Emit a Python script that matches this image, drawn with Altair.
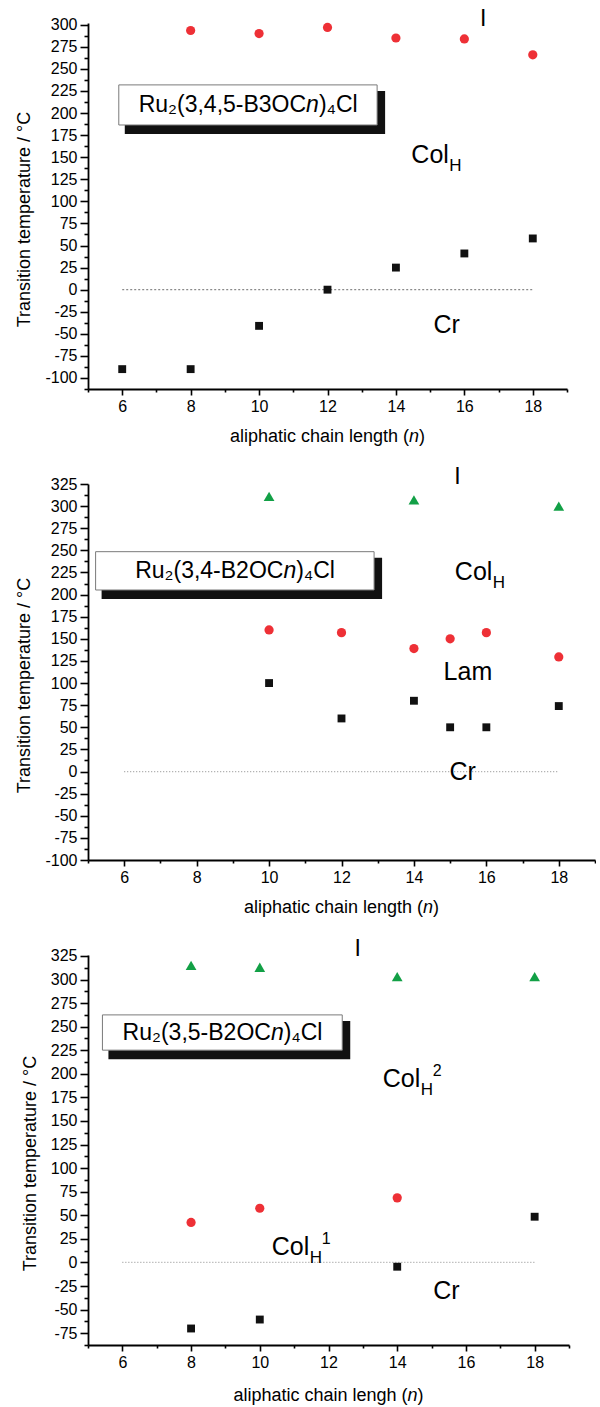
import altair as alt
import pandas as pd

FONT = "Liberation Sans"

# ---------------- data ----------------
# Panel 1: Ru2(3,4,5-B3OCn)4Cl
p1_sq_n = [6, 8, 10, 12, 14, 16, 18]
p1_sq_t = [-90, -90, -41, 0, 25, 41, 58]
p1_ci_n = [8, 10, 12, 14, 16, 18]
p1_ci_t = [293.5, 290, 297, 285, 284, 266]

# Panel 2: Ru2(3,4-B2OCn)4Cl
p2_sq_n = [10, 12, 14, 15, 16, 18]
p2_sq_t = [100, 60, 80, 50, 50, 74]
p2_ci_n = [10, 12, 14, 15, 16, 18]
p2_ci_t = [160, 157, 139, 150, 157, 129.5]
p2_tr_n = [10, 14, 18]
p2_tr_t = [311, 307, 300]

# Panel 3: Ru2(3,5-B2OCn)4Cl
p3_sq_n = [8, 10, 14, 18]
p3_sq_t = [-70, -60.5, -4.5, 48.5]
p3_ci_n = [8, 10, 14]
p3_ci_t = [42.5, 57.5, 68.5]
p3_tr_n = [8, 10, 14, 18]
p3_tr_t = [315, 313, 303, 303]

# phase labels: text, n, T, subscript, superscript, align
p1_phases = [("I", 16.55, 306, "", "", "center"),
             ("Col", 14.45, 152, "H", "", "left"),
             ("Cr", 15.1, -40.4, "", "", "left")]
p2_phases = [("I", 15.2, 333, "", "", "center"),
             ("Col", 15.13, 226, "H", "", "left"),
             ("Lam", 14.82, 112, "", "", "left"),
             ("Cr", 14.98, 0, "", "", "left")]
p3_phases = [("I", 12.85, 332.4, "", "", "center"),
             ("Col", 13.58, 194.4, "H", "2", "left"),
             ("Col", 10.35, 16, "H", "1", "left"),
             ("Cr", 15.05, -30.6, "", "", "left")]

# label boxes: n1, n2, T_top, T_bottom
p1_box = (5.9, 13.45, 231.9, 186.5)
p2_box = (5.21, 12.9, 248.5, 205.2)
p3_box = (5.42, 12.4, 262.5, 225.1)
# box label pieces: before italic n, after italic n
p1_label = ("Ru\u2082(3,4,5-B3OC", ")\u2084Cl")
p2_label = ("Ru\u2082(3,4-B2OC", ")\u2084Cl")
p3_label = ("Ru\u2082(3,5-B2OC", ")\u2084Cl")

x_title_1 = "aliphatic chain length ("
x_title_3 = "aliphatic chain lengh ("
y_title = "Transition temperature / \u00b0C"

COL_SQ = "#111111"
COL_CI = "#ee3036"
COL_TR = "#12a046"


def tick_values(lo, hi, step):
    vals = []
    v = lo
    while v <= hi + 1e-9:
        vals.append(round(v, 3))
        v += step
    return vals


def panel(sq, ci, tr, ydom, ylo, w, h, box, label, phases, xtitle,
          xtitle_shift, xtitle_dy, dot_dash, dot_color):
    xs = alt.Scale(domain=[5, 19], nice=False, zero=False)
    ys = alt.Scale(domain=ydom, nice=False, zero=False)
    xaxis = alt.Axis(
        values=list(range(5, 20)),
        labelExpr="datum.value % 2 === 0 && datum.value >= 6 && datum.value <= 18 ? '' + datum.value : ''",
        tickSize={"condition": {"test": "datum.value % 2 === 0", "value": 6}, "value": 3},
        title=None, grid=False, labelFont=FONT, labelFontSize=16,
        labelColor="black", labelPadding=3, labelOverlap=False, labelFlush=False,
        domainColor="black", domainWidth=1.8, tickColor="black", tickWidth=1.6,
    )
    yaxis = alt.Axis(
        values=tick_values(ylo, ydom[1], 12.5),
        labelExpr="datum.value % 25 === 0 ? '' + datum.value : ''",
        tickSize={"condition": {"test": "datum.value % 25 === 0", "value": 8}, "value": 4},
        title=y_title, titleFont=FONT, titleFontSize=18, titleFontWeight="normal",
        titleColor="black", titlePadding=11, titleY=h / 2 + 13,
        grid=False, labelFont=FONT, labelFontSize=16, labelColor="black",
        labelPadding=3, labelOverlap=False, labelFlush=False,
        domainColor="black", domainWidth=1.8, tickColor="black", tickWidth=1.6,
    )
    X = alt.X("n:Q", scale=xs, axis=xaxis)
    Y = alt.Y("T:Q", scale=ys, axis=yaxis)

    layers = []
    # dotted zero line
    zero = pd.DataFrame({"n": [6], "n2": [18], "T": [0]})
    layers.append(alt.Chart(zero).mark_rule(strokeDash=dot_dash, color=dot_color,
                                            strokeWidth=1.2).encode(x=X, x2="n2:Q", y=Y))
    # label box with shadow
    bdf = pd.DataFrame({"n": [box[0]], "n2": [box[1]], "T": [box[2]], "T2": [box[3]]})
    layers.append(alt.Chart(bdf).mark_rect(color="#111111", xOffset=6, x2Offset=8,
                                           yOffset=6, y2Offset=9).encode(
        x=X, x2="n2:Q", y=Y, y2="T2:Q"))
    layers.append(alt.Chart(bdf).mark_rect(fill="white", stroke="#7a7a7a",
                                           strokeWidth=1).encode(
        x=X, x2="n2:Q", y=Y, y2="T2:Q"))
    # box text pieces around the italic n
    cdf = pd.DataFrame({"n": [(box[0] + box[1]) / 2], "T": [(box[2] + box[3]) / 2],
                        "a": [label[0]], "b": ["n"], "c": [label[1]]})
    fs = 23
    anchor = (2.529 if "3,4,5" in label[0] else 2.111) * fs
    layers.append(alt.Chart(cdf).mark_text(align="right", baseline="middle", font=FONT,
                                           fontSize=fs, dx=anchor, color="black").encode(
        x=X, y=Y, text="a:N"))
    layers.append(alt.Chart(cdf).mark_text(align="left", baseline="middle", font=FONT,
                                           fontSize=fs, fontStyle="italic", dx=anchor,
                                           color="black").encode(x=X, y=Y, text="b:N"))
    layers.append(alt.Chart(cdf).mark_text(align="left", baseline="middle", font=FONT,
                                           fontSize=fs, dx=anchor + 0.556 * fs,
                                           color="black").encode(x=X, y=Y, text="c:N"))
    # data points
    if sq:
        d = pd.DataFrame({"n": sq[0], "T": sq[1]})
        layers.append(alt.Chart(d).mark_point(shape="square", filled=True, opacity=1,
                                              size=62, color=COL_SQ).encode(x=X, y=Y))
    if ci:
        d = pd.DataFrame({"n": ci[0], "T": ci[1]})
        layers.append(alt.Chart(d).mark_point(shape="circle", filled=True, opacity=1,
                                              size=85, color=COL_CI).encode(x=X, y=Y))
    if tr:
        d = pd.DataFrame({"n": tr[0], "T": tr[1]})
        layers.append(alt.Chart(d).mark_point(shape="triangle-up", filled=True, opacity=1,
                                              size=115, color=COL_TR).encode(x=X, y=Y))
    # phase labels
    pdf = pd.DataFrame(phases, columns=["txt", "n", "T", "sub", "sup", "al"])
    for al in ["left", "center"]:
        sub_df = pdf[pdf["al"] == al]
        if len(sub_df):
            layers.append(alt.Chart(sub_df).mark_text(align=al, baseline="middle", font=FONT,
                                                      fontSize=25 if al == "left" else 23,
                                                      color="black").encode(
                x=X, y=Y, text="txt:N"))
    sdf = pdf[pdf["sub"] != ""]
    if len(sdf):
        layers.append(alt.Chart(sdf).mark_text(align="left", baseline="middle", font=FONT,
                                               fontSize=17, dx=38, dy=11,
                                               color="black").encode(x=X, y=Y, text="sub:N"))
    udf = pdf[pdf["sup"] != ""]
    if len(udf):
        layers.append(alt.Chart(udf).mark_text(align="left", baseline="middle", font=FONT,
                                               fontSize=16, dx=50, dy=-8,
                                               color="black").encode(x=X, y=Y, text="sup:N"))
    # x-axis title with italic n
    xfs = 18
    tdf = pd.DataFrame({"a": [xtitle], "b": ["n"], "c": [")"]})
    A = w / 2 + xtitle_shift
    ty = h + xtitle_dy
    layers.append(alt.Chart(tdf).mark_text(align="right", baseline="middle", font=FONT,
                                           fontSize=xfs, color="black").encode(
        x=alt.value(A), y=alt.value(ty), text="a:N"))
    layers.append(alt.Chart(tdf).mark_text(align="left", baseline="middle", font=FONT,
                                           fontSize=xfs, fontStyle="italic", color="black").encode(
        x=alt.value(A), y=alt.value(ty), text="b:N"))
    layers.append(alt.Chart(tdf).mark_text(align="left", baseline="middle", font=FONT,
                                           fontSize=xfs, color="black").encode(
        x=alt.value(A + 0.556 * xfs), y=alt.value(ty), text="c:N"))

    return alt.layer(*layers).properties(width=w, height=h)


c1 = panel((p1_sq_n, p1_sq_t), (p1_ci_n, p1_ci_t), None, [-112.5, 302], -112.5,
           479, 366, p1_box, p1_label, p1_phases, x_title_1, 81.5, 48, [2, 2], "#8a8a8a")
c2 = panel((p2_sq_n, p2_sq_t), (p2_ci_n, p2_ci_t), (p2_tr_n, p2_tr_t), [-100, 325], -100,
           507, 376, p2_box, p2_label, p2_phases, x_title_1, 81.5, 48, [1, 2], "#a0a0a0")
c3 = panel((p3_sq_n, p3_sq_t), (p3_ci_n, p3_ci_t), (p3_tr_n, p3_tr_t), [-87.5, 326], -87.5,
           481, 390, p3_box, p3_label, p3_phases, x_title_3, 79, 51, [1, 2], "#a0a0a0")

chart = alt.vconcat(c1, c2, c3, spacing=95, bounds="flush").properties(
    padding={"left": 15, "top": 8, "right": 0, "bottom": 0},
    background="white",
).configure_view(stroke=None)

chart.save("out.html", embed_options={"renderer": "svg", "actions": False})
